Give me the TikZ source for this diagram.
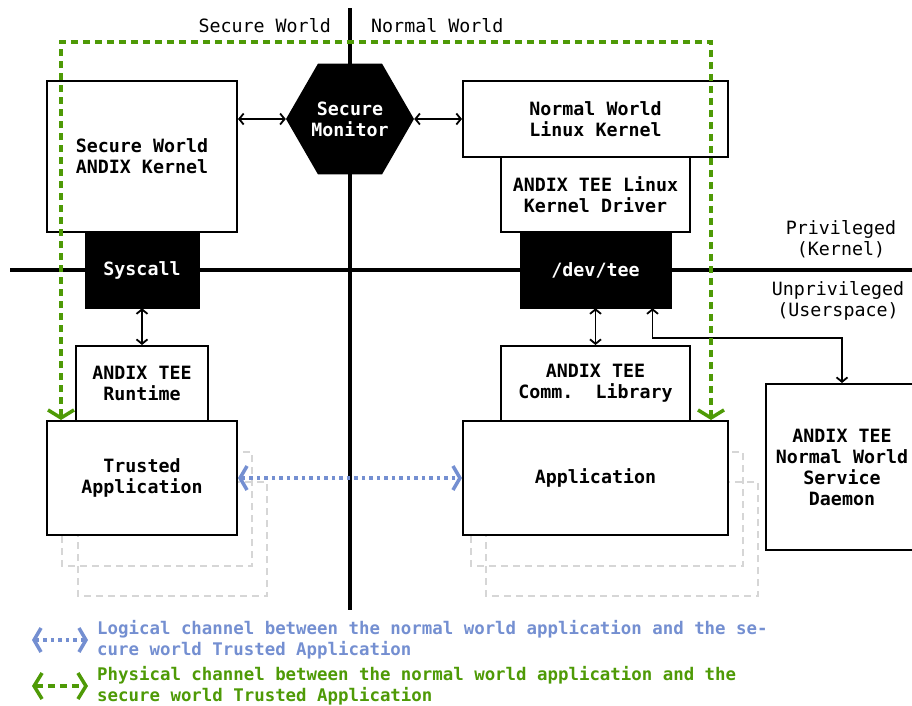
\documentclass[tikz,border=0pt]{standalone}
\usepackage{fontspec}
\setmonofont{DejaVu Sans Mono}
\usetikzlibrary{arrows.meta,shapes.geometric}
\definecolor{chanblue}{RGB}{116,143,209}
\definecolor{changreen}{RGB}{78,154,6}
\definecolor{ghost}{RGB}{214,214,214}
\tikzset{
  monotext/.style={font=\ttfamily\bfseries\fontsize{18.3}{21}\selectfont, align=center},
  plaintext/.style={font=\ttfamily\fontsize{18.3}{21}\selectfont, align=center, inner sep=0pt},
  whitebox/.style={monotext, draw=black, line width=2pt, fill=white, inner sep=0pt},
  blackbox/.style={monotext, draw=black, fill=black, text=white, inner sep=0pt},
  axis/.style={line width=4pt, black},
  link/.style={line width=1.8pt, {Straight Barb[length=4.5pt,width=11pt]}-{Straight Barb[length=4.5pt,width=11pt]}},
  ghostbox/.style={draw=ghost, line width=1.5pt, dash pattern=on 7pt off 5pt},
  logical/.style={chanblue, line width=3.5pt, dash pattern=on 3.5pt off 4pt,
    {Straight Barb[length=7pt,width=24pt,line width=3.5pt]}-{Straight Barb[length=7pt,width=24pt,line width=3.5pt]}},
  physical/.style={changreen, line width=3.5pt, dash pattern=on 7pt off 5pt,
    {Straight Barb[length=8pt,width=26pt,line width=3.5pt]}-{Straight Barb[length=8pt,width=26pt,line width=3.5pt]}},
  legendtext/.style={font=\ttfamily\bfseries\fontsize{17.4}{21}\selectfont, align=left, anchor=west, inner sep=0pt}
}
\begin{document}
\begin{tikzpicture}[x=1pt,y=-1pt]
\useasboundingbox (0,0) rectangle (912,705);

% world and privilege separators
\coordinate (vtop) at (350,8);
\coordinate (vbot) at (350,610);
\coordinate (hleft) at (10,270);
\coordinate (hright) at (912,270);
\draw[axis] (vtop) -- (vbot);
\draw[axis] (hleft) -- (hright);

\node[plaintext, anchor=east] (swlabel) at (331,26) {Secure World};
\node[plaintext, anchor=west] (nwlabel) at (371,26) {Normal World};
\node[plaintext] (privlabel) at (841,239.5) {Privileged\\(Kernel)};
\node[plaintext] (unprivlabel) at (838,300.5) {Unprivileged\\(Userspace)};

% stacked copies of the applications
\draw[ghostbox] (78,482) rectangle (267,596);
\draw[ghostbox] (62,452) rectangle (252,566);
\draw[ghostbox] (486,482) rectangle (758,596);
\draw[ghostbox] (471,452) rectangle (743,566);

% secure world
\node[whitebox, minimum width=190pt, minimum height=151pt] (kernel) at (142,156.5) {Secure World\\ANDIX Kernel};
\node[blackbox, minimum width=114pt, minimum height=75pt] (syscall) at (142,270.5) {Syscall};
\node[whitebox, minimum width=132pt, minimum height=75pt] (runtime) at (142,383.5) {ANDIX TEE\\Runtime};
\node[whitebox, minimum width=190pt, minimum height=114pt] (ta) at (142,478) {Trusted\\Application};

% monitor
\node[regular polygon, regular polygon sides=6, minimum size=128pt, inner sep=0pt,
      fill=black, text=white, monotext] (monitor) at (350,119) {Secure\\Monitor};

% normal world
\node[whitebox, minimum width=265pt, minimum height=76pt] (linux) at (595.5,119) {Normal World\\Linux Kernel};
\node[whitebox, minimum width=189pt, minimum height=75pt] (driver) at (595.5,194.5) {ANDIX TEE Linux\\Kernel Driver};
\node[blackbox, minimum width=151pt, minimum height=75pt] (devtee) at (595.5,270.5) {/dev/tee};
\node[whitebox, minimum width=189pt, minimum height=75pt] (comm) at (595.5,383.5) {ANDIX TEE\\Comm.\ \ Library};
\node[whitebox, minimum width=265pt, minimum height=114pt] (app) at (595.5,478) {Application};
\node[whitebox, minimum width=152pt, minimum height=166pt] (daemon) at (842,467) {ANDIX TEE\\Normal World\\Service\\Daemon};

% connectors
\draw[link] (monitor.west) -- (monitor.west -| kernel.east);
\draw[link] (monitor.east) -- (monitor.east -| linux.west);
\draw[link] (syscall.south) -- (runtime.north);
\draw[link] (devtee.south) -- (comm.north);
\draw[link] ([xshift=57pt]devtee.south) -- ++(0,30) -| (daemon.north);

% channels
\draw[logical] (ta.east) -- (app.west);
\draw[physical] ([xshift=15pt]ta.north west) -- ++(0,-378) -| ([xshift=-18pt]app.north east);

% legend
\coordinate (la) at (32,640);
\coordinate (lb) at (88,640);
\coordinate (pa) at (32,686);
\coordinate (pb) at (88,686);
\draw[logical] (la) -- (lb);
\draw[physical] (pa) -- (pb);
\node[legendtext, text=chanblue] (logtext) at (97,640) {Logical channel between the normal world application and the se-\\cure world Trusted Application};
\node[legendtext, text=changreen] (phystext) at (97,686) {Physical channel between the normal world application and the\\secure world Trusted Application};
\end{tikzpicture}
\end{document}
